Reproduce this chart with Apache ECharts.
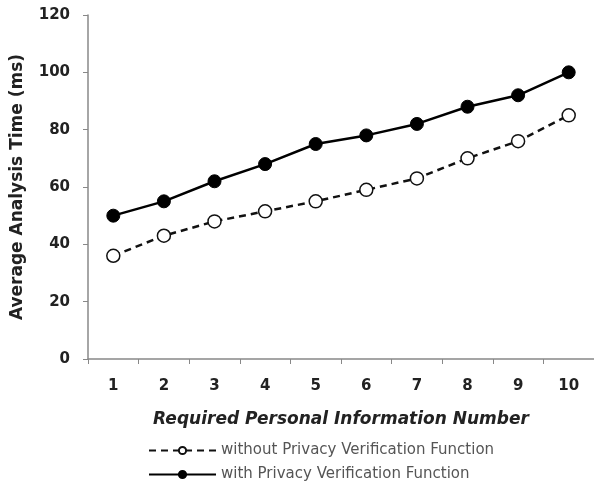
<!DOCTYPE html>
<html>
<head>
<meta charset="utf-8">
<script src="https://cdn.jsdelivr.net/npm/echarts@6/dist/echarts.min.js"></script>
<style>
  html, body { margin: 0; padding: 0; background: #fff; }
  #chart { width: 594px; height: 485px; }
</style>
</head>
<body>
<div id="chart"></div>
<script>
// x categories
var categories = ['1', '2', '3', '4', '5', '6', '7', '8', '9', '10']
// average analysis time (ms)
var withoutVerify = [36, 43, 48, 51.5, 55, 59, 63, 70, 76, 85]
var withVerify = [50, 55, 62, 68, 75, 78, 82, 88, 92, 100]

var chart = echarts.init(document.getElementById('chart'))
var font = 'DejaVu Sans, Verdana, sans-serif'

chart.setOption({
  animation: false,
  textStyle: { fontFamily: font },
  grid: {
    left: 88,
    top: 15,
    width: 506,
    height: 344
  },
  legend: {
    orient: 'vertical',
    left: 148,
    top: 443,
    padding: 0,
    itemWidth: 67,
    itemHeight: 9,
    itemGap: 9,
    textStyle: { fontSize: 15, color: '#555', fontFamily: font },
    data: ['without Privacy Verification Function', 'with Privacy Verification Function']
  },
  xAxis: {
    type: 'category',
    data: categories,
    boundaryGap: true,
    name: 'Required Personal Information Number',
    nameLocation: 'middle',
    nameGap: 52,
    nameTextStyle: { fontSize: 17, fontWeight: 'bold', fontStyle: 'italic', color: '#222', fontFamily: font },
    axisLine: { lineStyle: { color: '#888', width: 1.5 } },
    axisTick: { show: true, alignWithLabel: false, length: 5, lineStyle: { color: '#888' } },
    axisLabel: { fontSize: 15, fontWeight: 'bold', color: '#222', margin: 20, fontFamily: font }
  },
  yAxis: {
    type: 'value',
    min: 0,
    max: 120,
    interval: 20,
    name: 'Average Analysis Time (ms)',
    nameLocation: 'middle',
    nameGap: 62,
    nameTextStyle: { fontSize: 17, fontWeight: 'bold', color: '#222', fontFamily: font },
    splitLine: { show: false },
    axisLine: { show: true, lineStyle: { color: '#888', width: 1.5 } },
    axisTick: { show: true, length: 5, lineStyle: { color: '#888' } },
    axisLabel: { fontSize: 15, fontWeight: 'bold', color: '#222', margin: 18, fontFamily: font }
  },
  series: [
    {
      name: 'without Privacy Verification Function',
      type: 'line',
      data: withoutVerify,
      symbol: 'circle',
      symbolSize: 13,
      itemStyle: { color: '#fff', borderColor: '#111', borderWidth: 1.5 },
      lineStyle: { color: '#111', width: 2.5, type: [7, 5] }
    },
    {
      name: 'with Privacy Verification Function',
      type: 'line',
      data: withVerify,
      symbol: 'circle',
      symbolSize: 13,
      itemStyle: { color: '#000', borderColor: '#000', borderWidth: 1 },
      lineStyle: { color: '#000', width: 2.5 }
    }
  ]
})
</script>
</body>
</html>
